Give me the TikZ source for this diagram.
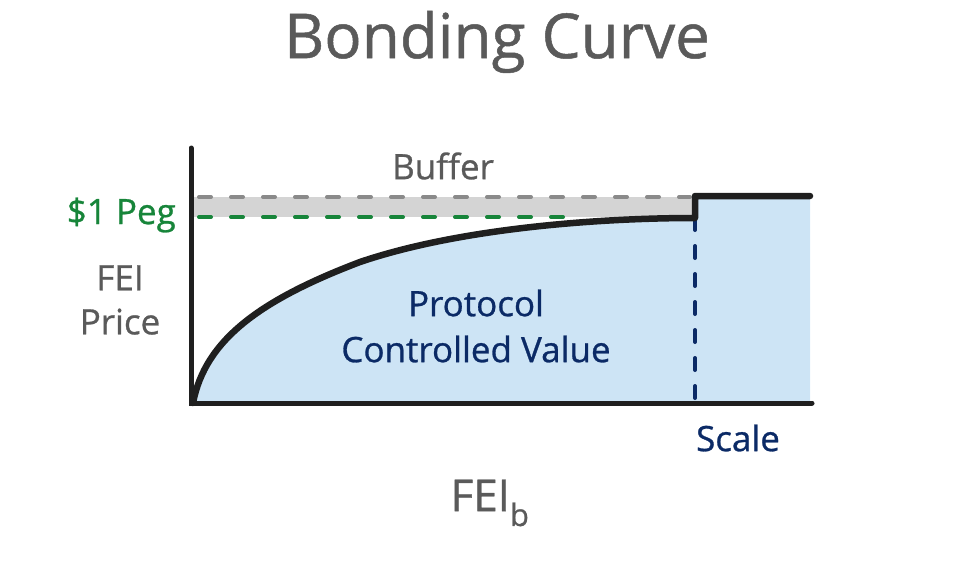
\documentclass[tikz,border=0pt]{standalone}
\usepackage{fontspec}
\setmainfont{Open Sans}[FakeBold=0.8]
\usetikzlibrary{positioning}
\definecolor{txtgray}{HTML}{5A5A5A}
\definecolor{dashgray}{HTML}{8A8A8A}
\definecolor{bandgray}{HTML}{D4D4D4}
\definecolor{peggreen}{HTML}{17853A}
\definecolor{navy}{HTML}{0B2A66}
\definecolor{pcvblue}{HTML}{CDE4F5}
\tikzset{
    axis/.style =   {draw=black!88,
                    line width=5pt,
                    line cap=round},
    curve/.style =  {draw=black!88,
                    line width=6.5pt,
                    line cap=round,
                    line join=round},
    bufline/.style = {draw=dashgray,
                    line width=4pt,
                    line cap=round,
                    dash pattern=on 12pt off 20pt},
    pegline/.style = {draw=peggreen,
                    line width=4pt,
                    line cap=round,
                    dash pattern=on 12pt off 20pt},
    scaleline/.style = {draw=navy,
                    line width=4pt,
                    line cap=round,
                    dash pattern=on 12pt off 16pt},
    label/.style =  {text=txtgray,
                    font=\fontsize{35}{42}\selectfont,
                    inner sep=0pt},
    -}

\begin{document}
\begin{tikzpicture}[x=1pt,y=-1pt]
                \useasboundingbox (0,0) rectangle (960,560);
                \coordinate (O)  at (193,403);
                \coordinate (Y)  at (191,148);
                \coordinate (X)  at (812,403);
                \coordinate (K)  at (695,218);
                \coordinate (KT) at (695,196);
                \coordinate (E)  at (810,196);
                % areas
                \fill[bandgray] (193,197) rectangle (695,217);
                \fill[pcvblue] (O) .. controls (205,340) and (260,300) .. (360,262)
                                   .. controls (460,228) and (600,218) .. (K)
                                   -- (KT) -- (E) -- (810,403) -- cycle;
                % lines
                \draw[bufline] (199,197) -- (690,197);
                \draw[pegline] (199,217) -- (575,217);
                \draw[scaleline] (K) -- (695,400);
                \draw[curve] (O) .. controls (205,340) and (260,300) .. (360,262)
                                 .. controls (460,228) and (600,218) .. (K)
                                 -- (KT) -- (E);
                \draw[axis] (Y) -- (191,403) -- (X);
                % texts
                \node[label, font=\fontsize{62}{66}\selectfont] (title) at (497,42) {Bonding Curve};
                \node[label] (buffer) at (443,166) {Buffer};
                \node[label, text=peggreen, anchor=east] (peg) at (176,215) {\$1 Peg};
                \node[label, align=center] (price) at (120,300) {FEI\\[2pt]Price};
                \node[label, text=navy, align=center] (pcv) at (476,326) {Protocol\\[4pt]Controlled Value};
                \node[label, text=navy] (scale) at (738,438) {Scale};
                \node[label, font=\fontsize{44}{48}\selectfont] (fei) at (490,503) {FEI\textsubscript{b}};
        \end{tikzpicture}
\end{document}
